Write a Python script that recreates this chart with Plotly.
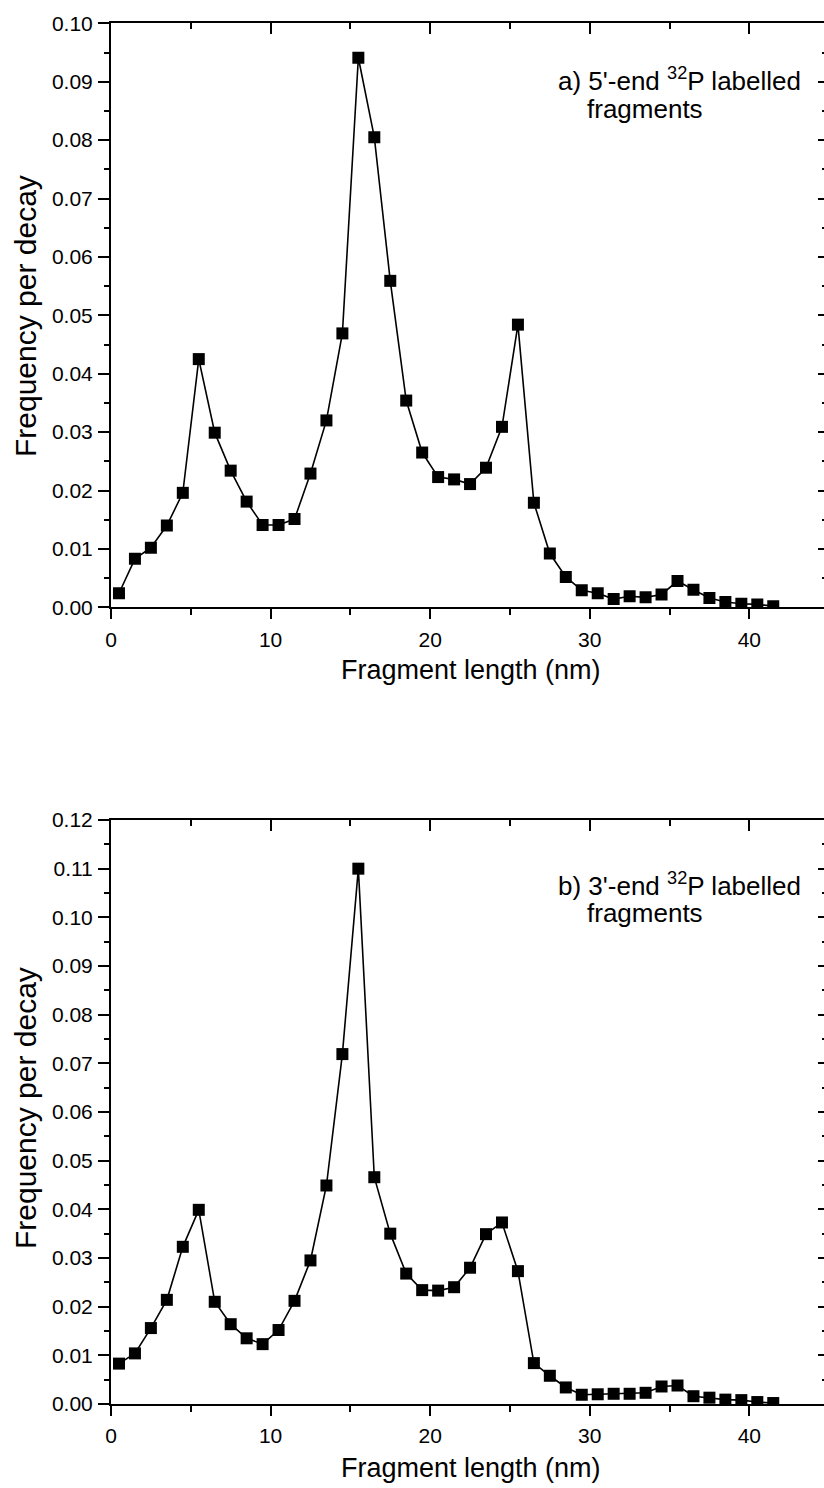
import plotly.graph_objects as go

# ---------------- data ----------------
fragment_length = [0.5, 1.5, 2.5, 3.5, 4.5, 5.5, 6.5, 7.5, 8.5, 9.5,
                   10.5, 11.5, 12.5, 13.5, 14.5, 15.5, 16.5, 17.5, 18.5, 19.5,
                   20.5, 21.5, 22.5, 23.5, 24.5, 25.5, 26.5, 27.5, 28.5, 29.5,
                   30.5, 31.5, 32.5, 33.5, 34.5, 35.5, 36.5, 37.5, 38.5, 39.5,
                   40.5, 41.5]

freq_5end = [0.0024, 0.0083, 0.0102, 0.0140, 0.0196, 0.0425, 0.0299, 0.0234, 0.0181, 0.0141,
             0.0141, 0.0151, 0.0229, 0.0320, 0.0469, 0.0941, 0.0805, 0.0559, 0.0354, 0.0265,
             0.0223, 0.0219, 0.0211, 0.0239, 0.0309, 0.0484, 0.0179, 0.0092, 0.0052, 0.0029,
             0.0024, 0.0014, 0.0019, 0.0017, 0.0022, 0.0045, 0.0030, 0.0016, 0.0009, 0.0006,
             0.0005, 0.0002]

freq_3end = [0.0083, 0.0104, 0.0156, 0.0214, 0.0323, 0.0399, 0.0210, 0.0164, 0.0135, 0.0123,
             0.0152, 0.0212, 0.0295, 0.0449, 0.0719, 0.1100, 0.0466, 0.0350, 0.0268, 0.0234,
             0.0233, 0.0240, 0.0280, 0.0349, 0.0373, 0.0273, 0.0084, 0.0058, 0.0034, 0.0019,
             0.0020, 0.0021, 0.0021, 0.0023, 0.0036, 0.0038, 0.0016, 0.0013, 0.0009, 0.0008,
             0.0004, 0.0002]

x_title = "Fragment length (nm)"
y_title = "Frequency per decay"
label_a = ("a) 5'-end <sup>32</sup>P labelled", "fragments")
label_b = ("b) 3'-end <sup>32</sup>P labelled", "fragments")

x_range = [0, 44.68]
y_range_a = [0, 0.10]
y_range_b = [0, 0.12]

# ---------------- layout geometry ----------------
W, H = 824, 1488
ML = 111
PW = W - ML

def py(p):
    """pixel y -> paper y"""
    return 1 - p / H

def px(p):
    """pixel x -> paper x"""
    return (p - ML) / PW

dom_a = [py(607.3), py(23.3)]
dom_b = [py(1404.0), py(820.0)]

FONT = "Arial, Liberation Sans, Helvetica, sans-serif"
tick_font = dict(family=FONT, size=21, color="black")

fig = go.Figure()

line_style = dict(color="black", width=1.6)
marker_style = dict(symbol="square", size=12, color="black")

fig.add_trace(go.Scatter(x=fragment_length, y=freq_5end, mode="lines+markers",
                         line=line_style, marker=marker_style,
                         xaxis="x", yaxis="y", showlegend=False))
fig.add_trace(go.Scatter(x=fragment_length, y=freq_3end, mode="lines+markers",
                         line=line_style, marker=marker_style,
                         xaxis="x2", yaxis="y2", showlegend=False))

# empty traces so that the mirror (top / right) axes are drawn
for xa, ya in [("x3", "y"), ("x", "y3"), ("x4", "y2"), ("x2", "y4")]:
    fig.add_trace(go.Scatter(x=[], y=[], mode="markers", xaxis=xa, yaxis=ya,
                             showlegend=False, hoverinfo="skip"))

def xaxis_main(anchor):
    return dict(domain=[0, 1], anchor=anchor, range=x_range, autorange=False,
                automargin=False,
                showline=True, linecolor="black", linewidth=2,
                ticks="outside", ticklen=10, tickwidth=2, tickcolor="black",
                dtick=10, tick0=0, tickfont=tick_font, showgrid=False, zeroline=False,
                minor=dict(dtick=5, tick0=0, ticks="outside", ticklen=6, tickwidth=2,
                           tickcolor="black", showgrid=False),
                ticklabelstandoff=2)

def xaxis_top(overlay, anchor):
    return dict(domain=[0, 1], anchor=anchor, overlaying=overlay, side="top",
                range=x_range, autorange=False, automargin=False,
                showline=True, linecolor="black", linewidth=2,
                ticks="inside", ticklen=11, tickwidth=2, tickcolor="black",
                dtick=10, tick0=0, showticklabels=False, showgrid=False, zeroline=False,
                minor=dict(dtick=5, tick0=0, ticks="inside", ticklen=6, tickwidth=2,
                           tickcolor="black", showgrid=False))

def yaxis_main(domain, rng, anchor):
    return dict(domain=domain, anchor=anchor, range=rng, autorange=False,
                automargin=False,
                showline=True, linecolor="black", linewidth=2,
                ticks="outside", ticklen=11, tickwidth=2, tickcolor="black",
                dtick=0.01, tick0=0, tickformat=".2f", tickfont=tick_font,
                showgrid=False, zeroline=False,
                minor=dict(dtick=0.005, tick0=0, ticks="outside", ticklen=5, tickwidth=2,
                           tickcolor="black", showgrid=False),
                ticklabelstandoff=1)

def yaxis_right(domain, rng, overlay, anchor):
    return dict(domain=domain, anchor=anchor, overlaying=overlay, side="right",
                range=rng, autorange=False, automargin=False, showline=False,
                ticks="inside", ticklen=6, tickwidth=2, tickcolor="black",
                dtick=0.01, tick0=0, showticklabels=False, showgrid=False, zeroline=False,
                minor=dict(dtick=0.005, tick0=0, ticks="inside", ticklen=2, tickwidth=2,
                           tickcolor="black", showgrid=False))

ann_font = dict(family=FONT, size=26, color="black")
xtitle_font = dict(family=FONT, size=27, color="black")
ytitle_font = dict(family=FONT, size=30, color="black")

annotations = []
for (y_ax_c, x_t_c, l1_c, l2_c, lab) in [
        (316.0, 670.0, 80.0, 109.0, label_a),
        (1108.0, 1468.0, 884.0, 913.0, label_b)]:
    annotations.append(dict(text=x_title, xref="paper", yref="paper",
                            x=px(471), y=py(x_t_c), xanchor="center", yanchor="middle",
                            showarrow=False, font=xtitle_font))
    annotations.append(dict(text=y_title, xref="paper", yref="paper",
                            x=px(25), y=py(y_ax_c), xanchor="center", yanchor="middle",
                            textangle=-90, showarrow=False, font=ytitle_font))
    annotations.append(dict(text=lab[0], xref="paper", yref="paper",
                            x=px(556), y=py(l1_c), xanchor="left", yanchor="middle",
                            showarrow=False, font=ann_font))
    annotations.append(dict(text=lab[1], xref="paper", yref="paper",
                            x=px(585), y=py(l2_c), xanchor="left", yanchor="middle",
                            showarrow=False, font=ann_font))

fig.update_layout(
    template="none",
    width=W, height=H, autosize=False,
    margin=dict(l=ML, r=0, t=0, b=0, pad=0),
    paper_bgcolor="white", plot_bgcolor="white",
    font=dict(family=FONT, color="black"),
    showlegend=False,
    xaxis=xaxis_main("y"),
    yaxis=yaxis_main(dom_a, y_range_a, "x"),
    xaxis2=xaxis_main("y2"),
    yaxis2=yaxis_main(dom_b, y_range_b, "x2"),
    xaxis3=xaxis_top("x", "y"),
    xaxis4=xaxis_top("x2", "y2"),
    yaxis3=yaxis_right(dom_a, y_range_a, "y", "x"),
    yaxis4=yaxis_right(dom_b, y_range_b, "y2", "x2"),
    annotations=annotations,
)

fig.write_html("out.html")
